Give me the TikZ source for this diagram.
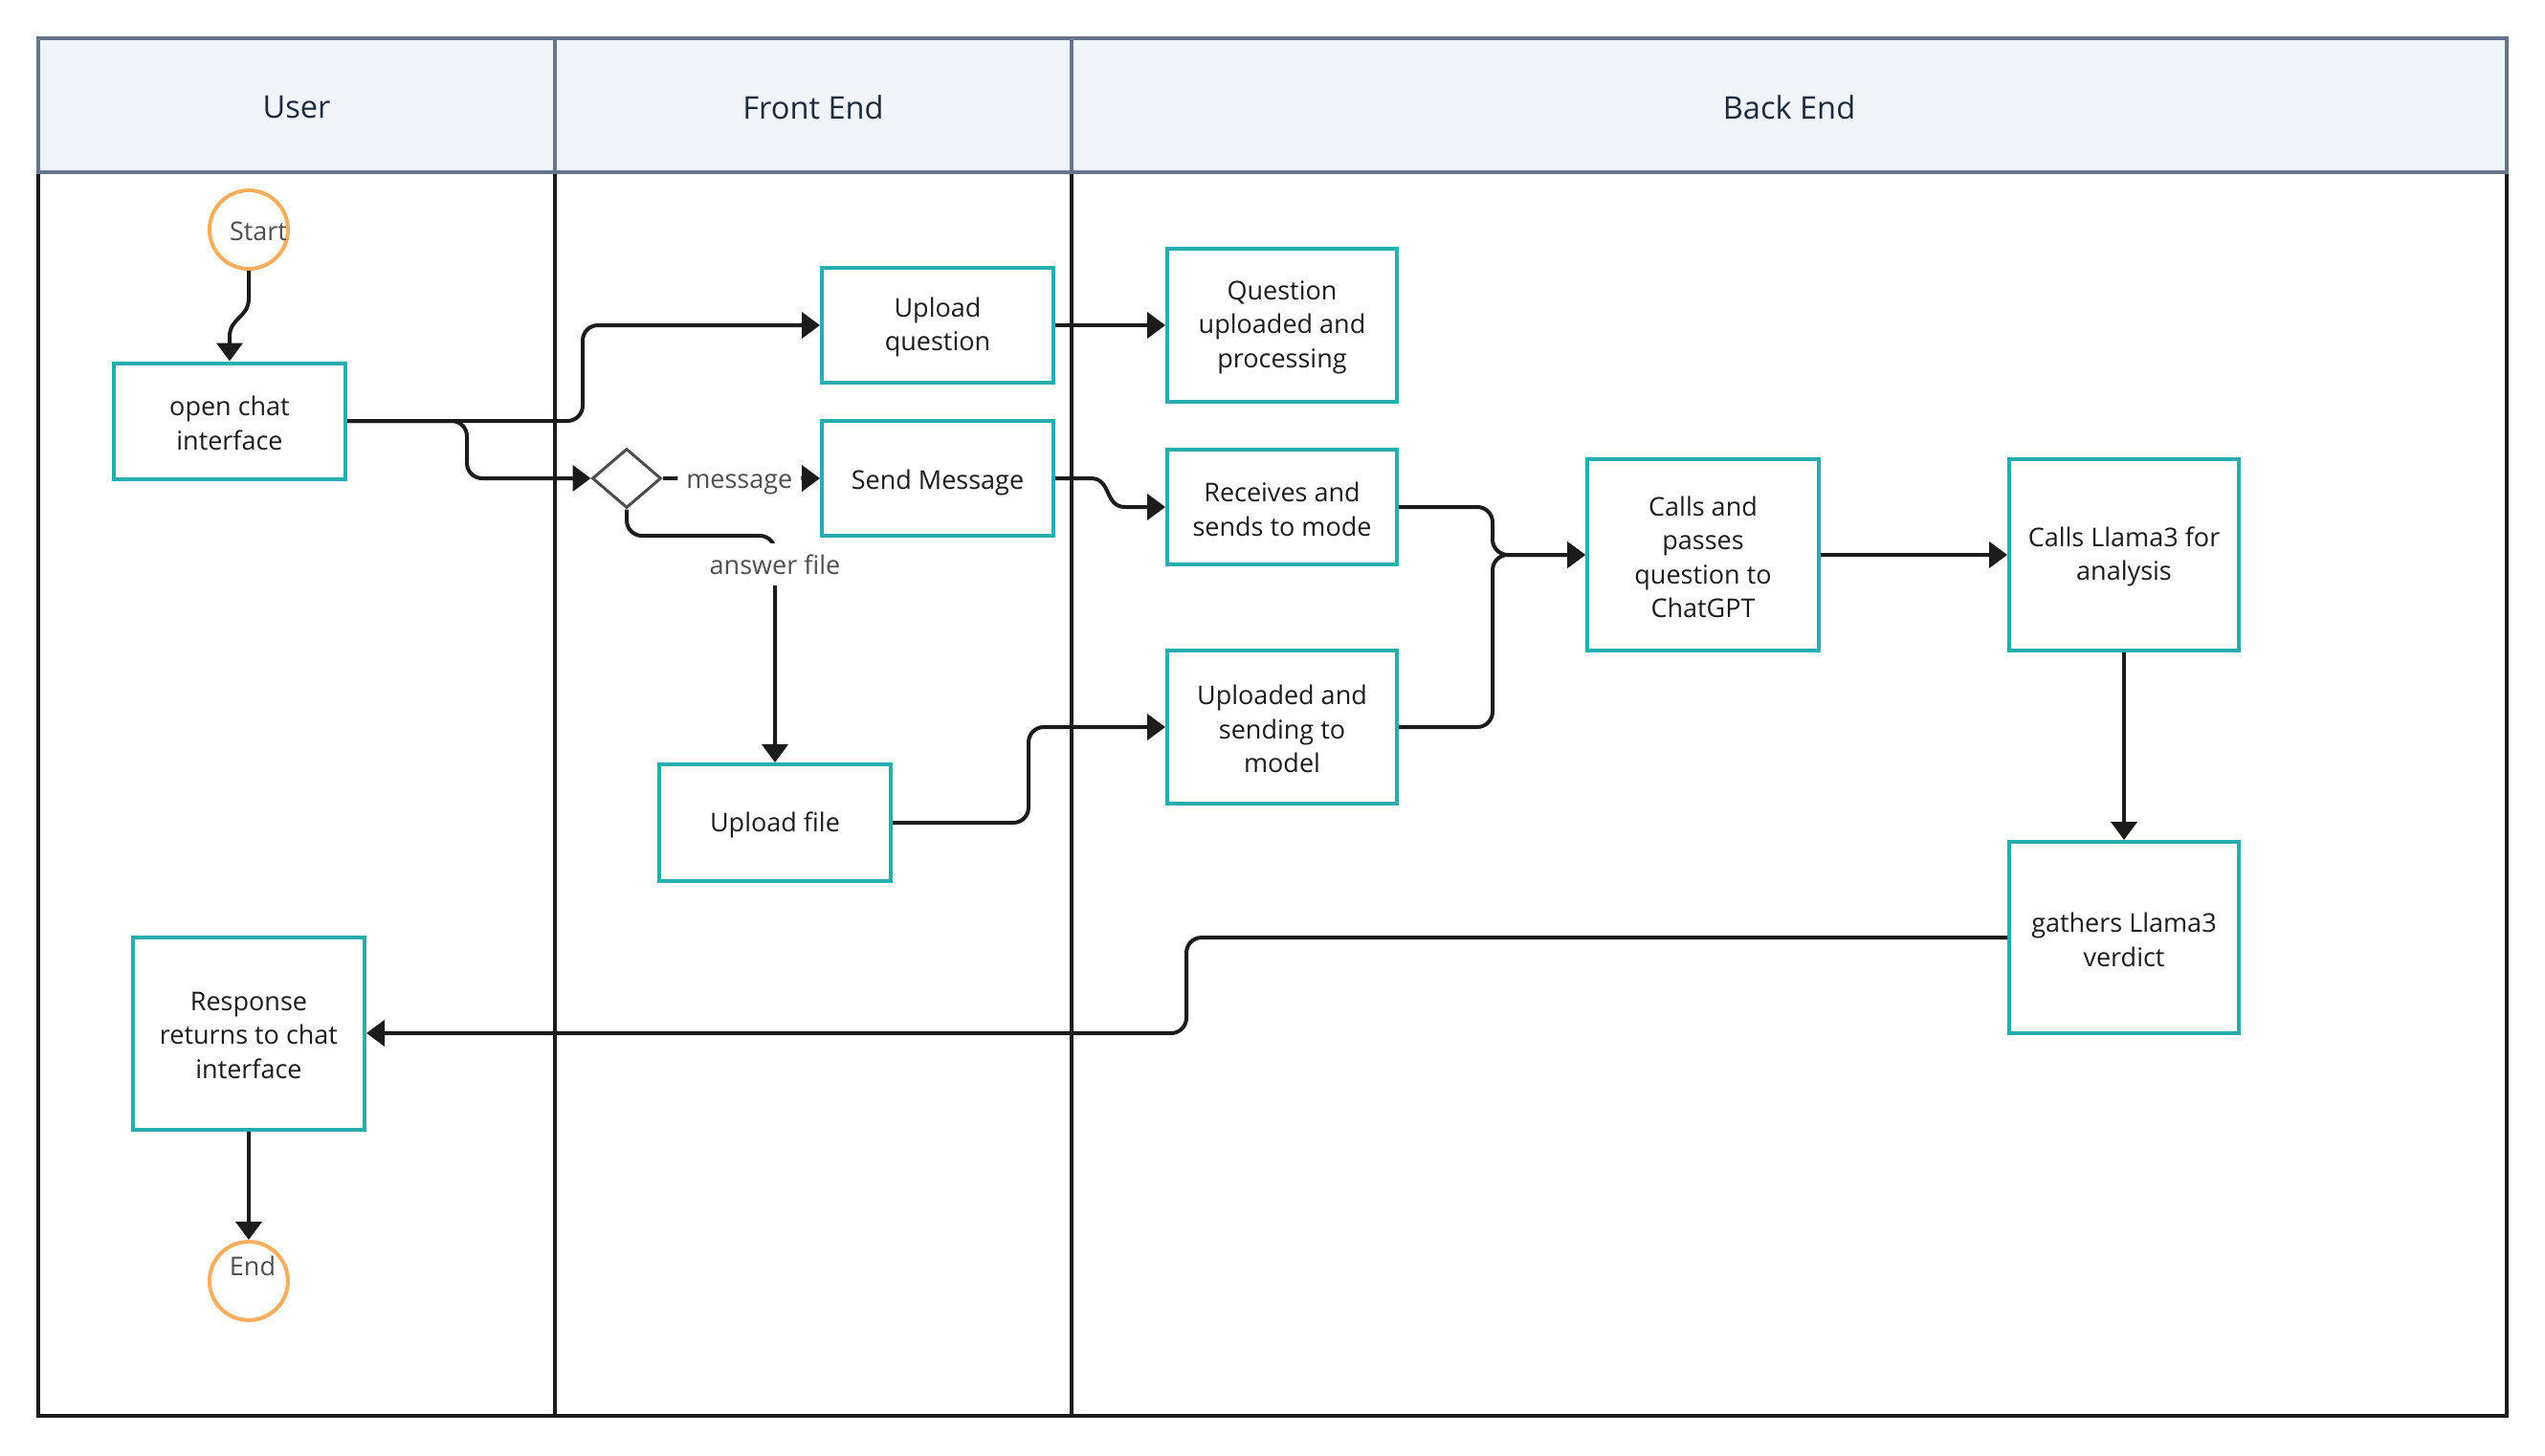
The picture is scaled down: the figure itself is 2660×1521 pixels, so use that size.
\documentclass[tikz,border=0pt]{standalone}
\usepackage{fontspec}
\setmainfont{Open Sans}
\usetikzlibrary{arrows.meta,shapes.geometric}

\definecolor{ink}{HTML}{1C1C1C}
\definecolor{boxteal}{HTML}{27AEAC}
\definecolor{termorange}{HTML}{F7AE5E}
\definecolor{headfill}{HTML}{F1F4F9}
\definecolor{headline}{HTML}{66758A}
\definecolor{headtext}{HTML}{1F2A3C}
\definecolor{labelgray}{HTML}{505050}
\definecolor{gategray}{HTML}{4D4D4D}

\newcommand{\boxfont}{\fontsize{13.5pt}{17.7pt}\selectfont}
\newcommand{\headfont}{\fontsize{16.3pt}{20pt}\selectfont}

\tikzset{
  lanerule/.style={line width=2pt, draw=ink},
  headrule/.style={line width=2pt, draw=headline},
  lanetitle/.style={font=\headfont, text=headtext},
  proc/.style={draw=boxteal, line width=2pt, fill=white,
    inner sep=0pt, minimum width=121pt},
  proctext/.style={align=center, font=\boxfont, text=ink, inner sep=0pt,
    yshift=-1.1pt},
  term/.style={circle, draw=termorange, line width=2pt, fill=white,
    minimum size=41pt, inner sep=0pt},
  termtext/.style={font=\boxfont, text=labelgray},
  gate/.style={diamond, draw=gategray, line width=1.5pt, fill=white,
    minimum width=36pt, minimum height=31pt, inner sep=0pt},
  flowlabel/.style={font=\boxfont, text=labelgray, fill=white,
    inner xsep=4.5pt, inner ysep=6pt},
  flow/.style={line width=2pt, draw=ink, rounded corners=8pt,
    -{Triangle[length=9.5pt,width=13.5pt]}},
  flowcurve/.style={line width=2pt, draw=ink,
    -{Triangle[length=9.5pt,width=13.5pt]}},
}

\begin{document}
\begin{tikzpicture}[x=0.5pt,y=-0.5pt]
\useasboundingbox (0,0) rectangle (2660,1521);

% header band
\fill[headfill] (40,40) rectangle (2620,180);

% lane bodies
\draw[lanerule] (40,180) -- (40,1480) -- (2620,1480) -- (2620,180);
\draw[lanerule] (580,180) -- (580,1480);
\draw[lanerule] (1120,180) -- (1120,1480);

% header frame
\draw[headrule] (40,40) rectangle (2620,180);
\draw[headrule] (580,40) -- (580,180);
\draw[headrule] (1120,40) -- (1120,180);

\node[lanetitle] (hUser)  at (310,112)  {User};
\node[lanetitle] (hFront) at (850,112)  {Front End};
\node[lanetitle] (hBack)  at (1870,112) {Back End};

% ---- nodes ----
\node[term, label={[termtext, xshift=5pt, yshift=-1pt]center:Start}] (start) at (260,240) {};
\node[proc, minimum height=60.5pt,
  label={[proctext]center:{open chat\\interface}}] (oc) at (240,440) {};

\node[proc, minimum height=60pt,
  label={[proctext]center:{Upload\\question}}] (uq) at (980,340) {};
\node[proc, minimum height=60pt,
  label={[proctext, yshift=-1pt]center:{Send Message}}] (sm) at (980,500) {};
\node[gate] (dia) at (655,500) {};
\node[proc, minimum height=61pt,
  label={[proctext]center:{Upload file}}] (uf) at (810,860) {};

\node[proc, minimum width=120pt, minimum height=80pt,
  label={[proctext]center:{Question\\uploaded and\\processing}}] (qp) at (1340,340) {};
\node[proc, minimum width=120pt, minimum height=60pt,
  label={[proctext]center:{Receives and\\sends to mode}}] (rs) at (1340,530) {};
\node[proc, minimum width=120pt, minimum height=80pt,
  label={[proctext]center:{Uploaded and\\sending to\\model}}] (us) at (1340,760) {};

\node[proc, minimum height=100pt,
  label={[proctext]center:{Calls and\\passes\\question to\\ChatGPT}}] (calls) at (1780,580) {};
\node[proc, minimum width=120pt, minimum height=100pt,
  label={[proctext]center:{Calls Llama3 for\\analysis}}] (llama) at (2220,580) {};
\node[proc, minimum width=120pt, minimum height=100pt,
  label={[proctext]center:{gathers Llama3\\verdict}}] (gv) at (2220,980) {};

\node[proc, minimum height=100.5pt,
  label={[proctext]center:{Response\\returns to chat\\interface}}] (resp) at (260,1080) {};
\node[term, label={[termtext, xshift=2pt, yshift=8pt]center:End}] (end) at (260,1339) {};

% ---- connectors ----
\draw[flowcurve] (start.south) -- (260,312) .. controls (260,332) and (240,332) .. (240,352) -- (oc.north);

\draw[flow] (oc.east) -- (609,440) -- (609,340) -- (uq.west);
\draw[flow] (oc.east) -- (488,440) -- (488,500) -- (dia.west);

\draw[flow] (dia.east) -- node[flowlabel, xshift=-1pt, yshift=-3pt] (msg) {message} (sm.west);
\draw[flow] (dia.south) -- (655,560) -- (810,560) -- (uf.north);
\node[flowlabel, inner xsep=6pt] (ans) at (810,590) {answer file};

\draw[flow] (uq.east) -- (qp.west);
\draw[flowcurve] (sm.east) -- (1140,500) .. controls (1162,500) and (1154,530) .. (1176,530) -- (rs.west);
\draw[flow] (uf.east) -- (1075,860) -- (1075,760) -- (us.west);

\draw[flow] (rs.east) -- (1560,530) -- (1560,580) -- (calls.west);
\draw[flow] (us.east) -- (1560,760) -- (1560,580) -- (calls.west);

\draw[flow] (calls.east) -- (llama.west);
\draw[flow] (llama.south) -- (gv.north);
\draw[flow] (gv.west) -- (1240,980) -- (1240,1080) -- (resp.east);
\draw[flow] (resp.south) -- (end.north);

\end{tikzpicture}
\end{document}
